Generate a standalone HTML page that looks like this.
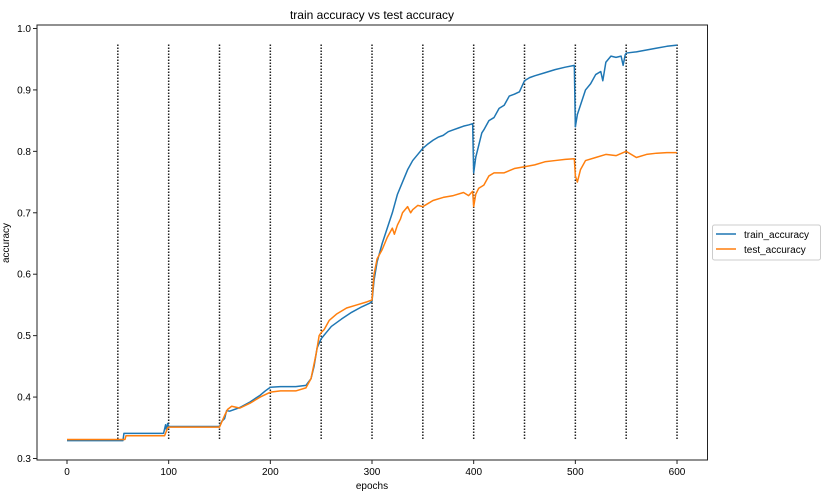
<!DOCTYPE html>
<html><head><meta charset="utf-8"><style>
body{margin:0;background:#fff;font-family:"Liberation Sans","DejaVu Sans",sans-serif;}
svg{display:block}
</style></head><body>
<svg id="chart" width="827" height="498" xmlns="http://www.w3.org/2000/svg">
<text x="372" y="19" font-size="12" text-anchor="middle">train accuracy vs test accuracy</text>
<g id="grid"></g>
<g id="series"></g>
<rect x="37" y="25" width="670.5" height="435" fill="none" stroke="#222" stroke-width="1"/>
<g id="xt"></g>
<g id="yt"></g>
<text x="372" y="489" font-size="10" text-anchor="middle">epochs</text>
<text transform="translate(9,243) rotate(-90)" font-size="10" text-anchor="middle">accuracy</text>
<g>
<rect x="712.5" y="225" width="108" height="35" rx="2" fill="#fff" stroke="#ccc"/>
<line x1="716" y1="234" x2="736" y2="234" stroke="#1f77b4" stroke-width="1.5"/>
<text x="744" y="238" font-size="10">train_accuracy</text>
<line x1="716" y1="249" x2="736" y2="249" stroke="#ff7f0e" stroke-width="1.5"/>
<text x="744" y="253" font-size="10">test_accuracy</text>
</g>
</svg>
<script>
const xTicks=[0,100,200,300,400,500,600];
const yTicks=[0.3,0.4,0.5,0.6,0.7,0.8,0.9,1.0];
const markers=[50,100,150,200,250,300,350,400,450,500,550,600];
const trainEpochs=[0,55,56,95,97,98,99,100,150,152,155,157,160,170,180,190,195,200,210,225,235,240,243,246,250,255,260,270,280,290,298,300,302,305,310,315,320,325,330,335,340,345,350,355,360,365,370,375,380,385,390,395,399,400,402,405,408,410,415,420,425,430,435,440,445,450,455,460,470,480,490,499,500,502,505,510,515,520,525,527,530,535,540,545,547,549,550,560,570,580,590,600];
const trainAcc=[0.329,0.329,0.341,0.341,0.355,0.345,0.357,0.352,0.352,0.36,0.365,0.378,0.377,0.383,0.392,0.403,0.41,0.416,0.417,0.417,0.419,0.43,0.45,0.48,0.495,0.505,0.515,0.527,0.538,0.547,0.553,0.556,0.59,0.62,0.65,0.675,0.7,0.73,0.75,0.77,0.785,0.795,0.805,0.812,0.818,0.823,0.826,0.832,0.835,0.838,0.841,0.843,0.845,0.765,0.79,0.81,0.83,0.835,0.85,0.855,0.87,0.875,0.89,0.893,0.897,0.915,0.92,0.923,0.928,0.933,0.937,0.94,0.84,0.86,0.875,0.9,0.91,0.925,0.93,0.915,0.945,0.955,0.953,0.955,0.94,0.957,0.96,0.962,0.965,0.968,0.971,0.973];
const testEpochs=[0,57,58,96,99,100,150,155,158,162,170,180,190,200,210,225,235,240,245,248,250,253,258,265,275,285,295,300,302,305,310,315,320,322,325,328,330,335,338,340,345,350,355,360,370,380,390,395,399,400,402,405,410,415,420,430,440,450,460,470,480,490,499,500,502,505,510,520,530,540,550,560,570,580,590,600];
const testAcc=[0.331,0.331,0.337,0.337,0.35,0.351,0.351,0.37,0.38,0.385,0.382,0.39,0.4,0.408,0.41,0.41,0.415,0.43,0.47,0.5,0.505,0.51,0.525,0.535,0.545,0.55,0.555,0.558,0.6,0.625,0.64,0.66,0.675,0.665,0.68,0.69,0.7,0.71,0.7,0.705,0.712,0.71,0.715,0.72,0.725,0.728,0.733,0.728,0.735,0.71,0.73,0.74,0.745,0.76,0.765,0.765,0.772,0.775,0.778,0.783,0.785,0.787,0.788,0.76,0.75,0.77,0.785,0.79,0.795,0.793,0.8,0.79,0.795,0.797,0.798,0.798];
const NS="http://www.w3.org/2000/svg";
const xS=v=>67+v*1.0167;
const yS=v=>458.5-(v-0.3)*614.3;
function mk(tag,parent){const e=document.createElementNS(NS,tag);document.getElementById(parent).appendChild(e);return e;}
markers.forEach(m=>{const l=mk('line','grid');


l.setAttribute('x1',xS(m));l.setAttribute('x2',xS(m));l.setAttribute('y1',yS(0.974));l.setAttribute('y2',yS(0.33));
l.setAttribute('stroke','#222');l.setAttribute('stroke-width','1.5');l.setAttribute('stroke-dasharray','1.5,1.5');});
xTicks.forEach(t=>{const l=mk('line','xt');


l.setAttribute('x1',xS(t));l.setAttribute('x2',xS(t));l.setAttribute('y1',460);l.setAttribute('y2',464);l.setAttribute('stroke','#222');
const s=mk('text','xt');


s.setAttribute('x',xS(t));s.setAttribute('y',475);s.setAttribute('font-size','10');s.setAttribute('text-anchor','middle');s.textContent=t;});
yTicks.forEach(t=>{const l=mk('line','yt');


l.setAttribute('x1',33);l.setAttribute('x2',37);l.setAttribute('y1',yS(t));l.setAttribute('y2',yS(t));l.setAttribute('stroke','#222');
const s=mk('text','yt');


s.setAttribute('x',31);s.setAttribute('y',yS(t)+3.5);s.setAttribute('font-size','10');s.setAttribute('text-anchor','end');s.textContent=t.toFixed(1);});
function line(xs,ys,color,name){const p=mk('polyline','series');


p.setAttribute('points',xs.map((x,i)=>xS(x)+','+yS(ys[i])).join(' '));
p.setAttribute('fill','none');p.setAttribute('stroke',color);p.setAttribute('stroke-width','1.5');p.setAttribute('stroke-linejoin','round');}
line(trainEpochs,trainAcc,'#1f77b4','train-accuracy-line');
line(testEpochs,testAcc,'#ff7f0e','test-accuracy-line');
</script>
</body></html>
